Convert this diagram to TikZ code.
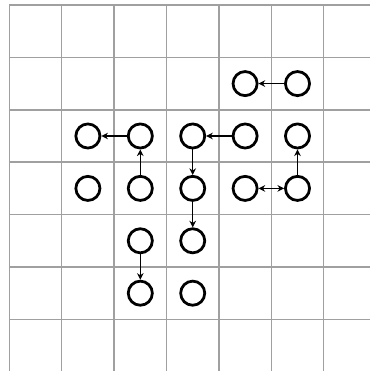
\documentclass[tikz,border=0pt]{standalone}
\usetikzlibrary{arrows.meta}
\begin{document}
\begin{tikzpicture}[x=1cm,y=1cm,
  cellnode/.style={circle,draw=black,line width=1.5pt,minimum size=0.46cm,inner sep=0pt},
  link/.style={line width=0.8pt,-{Stealth[length=3.6pt,width=3.6pt]}},
  dlink/.style={line width=0.8pt,{Stealth[length=3.6pt,width=3.6pt]}-{Stealth[length=3.6pt,width=3.6pt]}}]
\useasboundingbox (-0.1775,0.0954) rectangle (6.865,-6.985);
\draw[line width=0.8pt,color={rgb,255:red,160;green,160;blue,160}] (-0.01,-7.2) grid (7.2,0);
\foreach \c/\r in {4/1,5/1,1/2,2/2,3/2,4/2,5/2,1/3,2/3,3/3,4/3,5/3,2/4,3/4,2/5,3/5}
  \node[cellnode] (n\c\r) at (\c+0.5,-\r-0.5) {};
\draw[link] (n51) -- (n41);
\draw[link] (n22) -- (n12);
\draw[link] (n42) -- (n32);
\draw[link] (n32) -- (n33);
\draw[link] (n23) -- (n22);
\draw[link] (n53) -- (n52);
\draw[dlink] (n43) -- (n53);
\draw[link] (n33) -- (n34);
\draw[link] (n24) -- (n25);
\end{tikzpicture}
\end{document}
